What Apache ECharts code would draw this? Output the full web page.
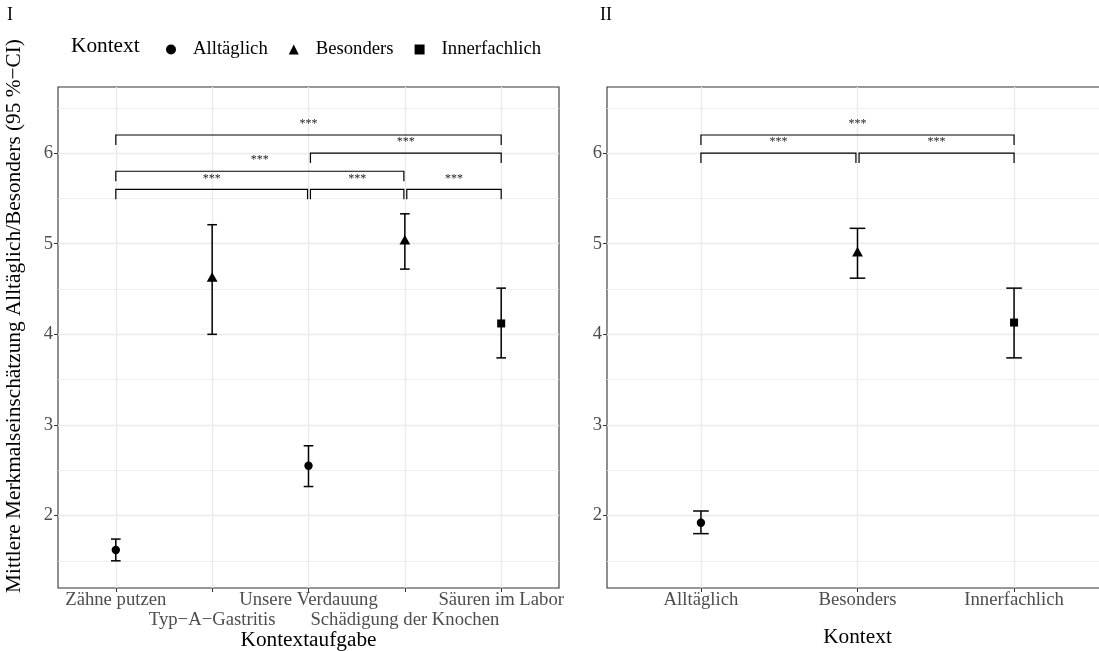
<!DOCTYPE html>
<html>
<head>
<meta charset="utf-8">
<script src="https://cdn.jsdelivr.net/npm/echarts@6/dist/echarts.min.js"></script>
<style>
  html, body { margin: 0; padding: 0; background: #ffffff; }
  #chart { width: 1099px; height: 651px; }
</style>
</head>
<body>
<div id="chart"></div>
<script>
// ---- Panel I: one estimate per task ----
const tasks = ['Zähne putzen', 'Typ\u2212A\u2212Gastritis', 'Unsere Verdauung', 'Schädigung der Knochen', 'Säuren im Labor'];
const taskContext = ['Alltäglich', 'Besonders', 'Alltäglich', 'Besonders', 'Innerfachlich'];
const taskMean  = [1.62, 4.62, 2.55, 5.03, 4.12];
const taskLower = [1.50, 4.00, 2.32, 4.72, 3.74];
const taskUpper = [1.74, 5.21, 2.77, 5.33, 4.51];

// ---- Panel II: one estimate per context ----
const contexts = ['Alltäglich', 'Besonders', 'Innerfachlich'];
const contextMean  = [1.92, 4.90, 4.13];
const contextLower = [1.80, 4.62, 3.74];
const contextUpper = [2.05, 5.17, 4.51];

// ---- significance brackets: [from, to, height, label] ----
const taskBrackets = [
  [1, 5, 6.2, '***'],
  [3.02, 5, 6.0, '***'],
  [1, 3.99, 5.8, '***'],
  [1, 2.99, 5.6, '***'],
  [3.02, 3.99, 5.6, '***'],
  [4.02, 5, 5.6, '***']
];
const contextBrackets = [
  [1, 3, 6.2, '***'],
  [1, 1.99, 6.0, '***'],
  [2.01, 3, 6.0, '***']
];

// ---- axis ticks ----
const yTicks = [2, 3, 4, 5, 6];
const yMinorTicks = [1.5, 2.5, 3.5, 4.5, 5.5, 6.5];
const yMin = 1.2, yMax = 6.73;

const FONT = '"Liberation Serif", "Times New Roman", Times, serif';
const TICK_COLOR = '#4D4D4D';
const GRID_COLOR = '#EBEBEB';
const CAP = 0.05;      // half width of the error bar caps, in category units
const TIP = 0.11;      // bracket tip length, in y units

const shapeOf = { 'Alltäglich': 'circle', 'Besonders': 'triangle', 'Innerfachlich': 'rect' };

function drawSymbol(shape, cx, cy) {
  if (shape === 'circle') {
    return { type: 'circle', shape: { cx: cx, cy: cy, r: 4.2 }, style: { fill: '#000' } };
  }
  if (shape === 'triangle') {
    return { type: 'polygon', shape: { points: [[cx, cy - 6], [cx - 5.4, cy + 3.6], [cx + 5.4, cy + 3.6]] }, style: { fill: '#000' } };
  }
  return { type: 'rect', shape: { x: cx - 4, y: cy - 4, width: 8, height: 8 }, style: { fill: '#000' } };
}

function errorBarItem(shape) {
  return function (params, api) {
    const x = api.value(0), m = api.value(1), lo = api.value(2), hi = api.value(3);
    const pLo = api.coord([x, lo]);
    const pHi = api.coord([x, hi]);
    const pM = api.coord([x, m]);
    const xl = api.coord([x - CAP, lo])[0];
    const xr = api.coord([x + CAP, lo])[0];
    const ls = { stroke: '#000', lineWidth: 1.5 };
    return {
      type: 'group',
      children: [
        { type: 'line', shape: { x1: pLo[0], y1: pLo[1], x2: pHi[0], y2: pHi[1] }, style: ls },
        { type: 'line', shape: { x1: xl, y1: pLo[1], x2: xr, y2: pLo[1] }, style: ls },
        { type: 'line', shape: { x1: xl, y1: pHi[1], x2: xr, y2: pHi[1] }, style: ls },
        drawSymbol(shape, pM[0], pM[1])
      ]
    };
  };
}

function bracketItem(params, api) {
  const x1 = api.value(0), x2 = api.value(1), y = api.value(2);
  const a = api.coord([x1, y - TIP]);
  const b = api.coord([x1, y]);
  const c = api.coord([x2, y]);
  const d = api.coord([x2, y - TIP]);
  const mid = api.coord([(x1 + x2) / 2, y]);
  return {
    type: 'group',
    children: [
      { type: 'polyline', shape: { points: [a, b, c, d] }, style: { stroke: '#000', lineWidth: 1.2, fill: null } },
      { type: 'text', x: mid[0], y: mid[1] - 11,
        style: { text: api.value(3), textAlign: 'center', textVerticalAlign: 'middle',
                 font: '12px ' + FONT, fill: '#222' } }
    ]
  };
}

// x axes: 0 = panel I (ticks, first label row, title), 1 = panel I second label row, 2 = panel II
const X_TASK = 0, X_CONTEXT = 2;

// one point series per context and panel
const series = [];
contexts.forEach(function (ctx) {
  const left = [];
  tasks.forEach(function (t, i) {
    if (taskContext[i] === ctx) left.push([i + 1, taskMean[i], taskLower[i], taskUpper[i]]);
  });
  series.push({
    name: ctx, type: 'custom', xAxisIndex: X_TASK, yAxisIndex: 0, itemStyle: { color: '#000' },
    renderItem: errorBarItem(shapeOf[ctx]), encode: { x: 0, y: [1, 2, 3] }, data: left, z: 5
  });
  const j = contexts.indexOf(ctx);
  series.push({
    name: ctx, type: 'custom', xAxisIndex: X_CONTEXT, yAxisIndex: 2, itemStyle: { color: '#000' },
    renderItem: errorBarItem(shapeOf[ctx]), encode: { x: 0, y: [1, 2, 3] },
    data: [[j + 1, contextMean[j], contextLower[j], contextUpper[j]]], z: 5
  });
});
series.push({
  type: 'custom', xAxisIndex: X_TASK, yAxisIndex: 0, renderItem: bracketItem,
  encode: { x: [0, 1], y: 2 }, data: taskBrackets, z: 6, silent: true
});
series.push({
  type: 'custom', xAxisIndex: X_CONTEXT, yAxisIndex: 2, renderItem: bracketItem,
  encode: { x: [0, 1], y: 2 }, data: contextBrackets, z: 6, silent: true
});

const labelStyle = { color: TICK_COLOR, fontFamily: FONT, fontSize: 18.7, lineHeight: 21,
                     showMinLabel: true, showMaxLabel: true, hideOverlap: false };

function positions(labels) { return labels.map(function (_, i) { return i + 1; }); }

function xAxisMain(gridIndex, labels, labelValues, title, titleGap) {
  return {
    type: 'value', gridIndex: gridIndex, position: 'bottom', min: 0.4, max: labels.length + 0.6,
    axisLine: { show: false },
    axisTick: { show: true, length: 4, lineStyle: { color: '#333333', width: 1 }, customValues: positions(labels) },
    axisLabel: Object.assign({
      customValues: labelValues, margin: 2,
      formatter: function (v) { return labels[Math.round(v) - 1]; }
    }, labelStyle),
    splitLine: { show: true, lineStyle: { color: GRID_COLOR, width: 1.3 } },
    name: title, nameLocation: 'middle', nameGap: titleGap,
    nameTextStyle: { fontFamily: FONT, fontSize: 21.3, color: '#000' }
  };
}

// second row of task labels, dodged below the first row
function xAxisSecondRow(gridIndex, labels, labelValues) {
  return {
    type: 'value', gridIndex: gridIndex, position: 'bottom', min: 0.4, max: labels.length + 0.6,
    axisLine: { show: false }, axisTick: { show: false }, splitLine: { show: false },
    axisLabel: Object.assign({
      customValues: labelValues, margin: 22,
      formatter: function (v) { return labels[Math.round(v) - 1]; }
    }, labelStyle)
  };
}

function yAxisMajor(gridIndex) {
  return {
    type: 'value', gridIndex: gridIndex, min: yMin, max: yMax,
    axisLine: { show: false },
    axisTick: { show: true, length: 4, lineStyle: { color: '#333333', width: 1 }, customValues: yTicks },
    axisLabel: { customValues: yTicks, margin: 5, color: TICK_COLOR, fontFamily: FONT, fontSize: 18.7 },
    splitLine: { show: true, lineStyle: { color: GRID_COLOR, width: 1.3 } }
  };
}
function yAxisMinor(gridIndex) {
  return {
    type: 'value', gridIndex: gridIndex, min: yMin, max: yMax,
    axisLine: { show: false }, axisLabel: { show: false },
    axisTick: { show: false, customValues: yMinorTicks },
    splitLine: { show: true, lineStyle: { color: GRID_COLOR, width: 0.8 } }
  };
}

const gridBase = { top: 87, bottom: 63, show: true, borderColor: '#333333', borderWidth: 1.1,
                   backgroundColor: '#ffffff', containLabel: false, outerBoundsMode: 'none' };

const option = {
  backgroundColor: '#ffffff',
  animation: false,
  grid: [
    Object.assign({ left: 58, right: 540 }, gridBase),
    Object.assign({ left: 607, right: -9 }, gridBase)
  ],
  xAxis: [
    xAxisMain(0, tasks, [1, 3, 5], 'Kontextaufgabe', 42),
    xAxisSecondRow(0, tasks, [2, 4]),
    xAxisMain(1, contexts, positions(contexts), 'Kontext', 39)
  ],
  yAxis: [yAxisMajor(0), yAxisMinor(0), yAxisMajor(1), yAxisMinor(1)],
  legend: {
    left: 161, top: 35, itemWidth: 10, itemHeight: 10, itemGap: 21, selectedMode: false,
    textStyle: { fontFamily: FONT, fontSize: 18.7, color: '#000', padding: [0, 0, 0, 12] },
    data: [
      { name: 'Alltäglich', icon: 'circle' },
      { name: 'Besonders', icon: 'triangle' },
      { name: 'Innerfachlich', icon: 'rect' }
    ]
  },
  graphic: [
    { type: 'text', left: 7, top: 6, style: { text: 'I', font: '18px ' + FONT, fill: '#000' } },
    { type: 'text', left: 600, top: 6, style: { text: 'II', font: '18px ' + FONT, fill: '#000' } },
    { type: 'text', x: 71, y: 46, style: { text: 'Kontext', font: '21.3px ' + FONT, fill: '#000', textVerticalAlign: 'middle' } },
    { type: 'text', x: 14, y: 316, rotation: Math.PI / 2,
      style: { text: 'Mittlere Merkmalseinschätzung Alltäglich/Besonders (95 %\u2212CI)',
               textAlign: 'center', textVerticalAlign: 'middle', font: '21.3px ' + FONT, fill: '#000' } }
  ],
  series: series
};

const chart = echarts.init(document.getElementById('chart'), null, { renderer: 'canvas' });
chart.setOption(option);
</script>
</body>
</html>
